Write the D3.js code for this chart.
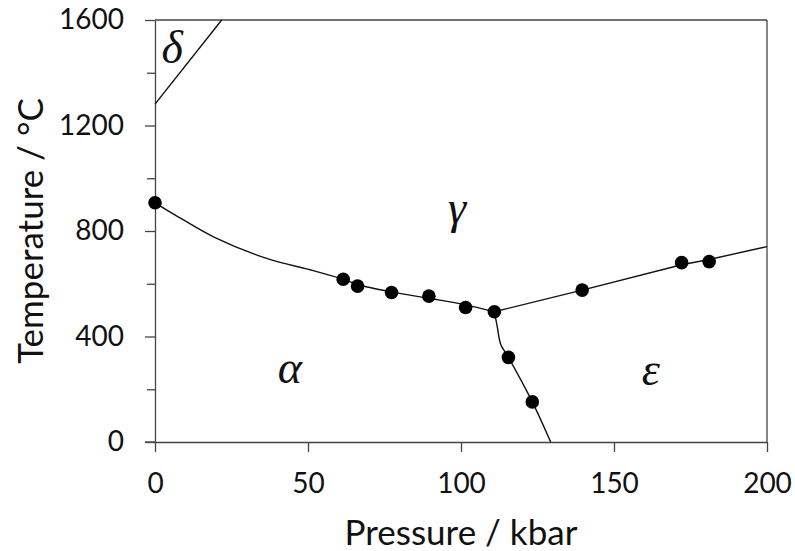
<!DOCTYPE html>
<html><head><meta charset="utf-8">
<script src="https://cdn.jsdelivr.net/npm/d3@7"></script>
<style>body{margin:0;background:#fff}svg{display:block}</style>
</head><body>
<script>
const pressureTicks = [0, 50, 100, 150, 200];
const tempTicks = [0, 400, 800, 1200, 1600];
const tempMinorTicks = [200, 600, 1000, 1400];
// measured points
const pointP = [0, 61.5, 66.2, 77.3, 89.5, 101.5, 110.9, 115.5, 123.3, 139.6, 172.1, 181.1];
const pointT = [907, 617, 591, 567, 553, 510, 494, 321, 152, 576, 680, 684];
// phase boundaries
const alphaGammaP = [0, 9.3, 19.1, 36.5, 51.7, 61.5, 66.2, 77.3, 89.5, 101.5, 110.9];
const alphaGammaT = [907, 842, 778, 696, 650, 617, 597, 569, 545, 520, 494];
const gammaEpsP = [110.9, 139.6, 172.1, 181.1, 200];
const gammaEpsT = [494, 576, 672, 692, 741];
const alphaEpsP = [110.9, 111.8, 113.0, 115.5, 123.3, 129.3];
const alphaEpsT = [494, 440, 370, 321, 152, 0];
const deltaP = [0, 21.8];
const deltaT = [1281, 1600];
const phaseLabels = ["δ", "γ", "α", "ε"];
const phaseP = [5.6, 98.7, 44.1, 162];
const phaseT = [1437, 830, 224, 216];

const W = 795, H = 551;
const m = {l: 155, r: 28, t: 20, b: 109};
const svg = d3.select("body").append("svg").attr("width", W).attr("height", H);
const x = d3.scaleLinear().domain([0, 200]).range([m.l, W - m.r]);
const y = d3.scaleLinear().domain([0, 1600]).range([H - m.b, m.t]);
const axisColor = "#444";
const tickFont = "Lato, 'Open Sans', sans-serif";

// frame (top and right)
svg.append("line").attr("x1", x(0)).attr("x2", x(200)).attr("y1", y(1600)).attr("y2", y(1600)).attr("stroke", axisColor).attr("stroke-width", 1.3);
svg.append("line").attr("x1", x(200)).attr("x2", x(200)).attr("y1", y(1600)).attr("y2", y(0)).attr("stroke", axisColor).attr("stroke-width", 1.3);

// x axis
svg.append("g").attr("transform", `translate(0,${y(0)})`)
  .call(d3.axisBottom(x).tickValues(pressureTicks).tickSize(10).tickSizeOuter(0).tickPadding(21).tickFormat(d3.format("d")));
// y axis
svg.append("g").attr("transform", `translate(${x(0)},0)`)
  .call(d3.axisLeft(y).tickValues(tempTicks).tickSize(10).tickSizeOuter(0).tickPadding(21).tickFormat(d3.format("d")));
svg.append("g").attr("transform", `translate(${x(0)},0)`)
  .call(d3.axisLeft(y).tickValues(tempMinorTicks).tickSize(8).tickSizeOuter(0).tickFormat(""))
  .call(g => g.select(".domain").remove());
svg.selectAll(".domain").attr("stroke", axisColor).attr("stroke-width", 1.3);
svg.selectAll(".tick line").attr("stroke", axisColor).attr("stroke-width", 1.3);
svg.append("line").attr("x1", x(0) - 10).attr("x2", x(0)).attr("y1", y(0)).attr("y2", y(0)).attr("stroke", axisColor).attr("stroke-width", 1.3);
svg.selectAll(".tick text").attr("font-family", tickFont).attr("font-size", 28).attr("fill", "#111");

// axis titles
svg.append("text").attr("x", x(100)).attr("y", 545).attr("text-anchor", "middle")
  .attr("font-family", tickFont).attr("font-size", 35).attr("fill", "#111").text("Pressure / kbar");
svg.append("text").attr("transform", `translate(43,${(y(0)+y(1600))/2}) rotate(-90)`).attr("text-anchor", "middle")
  .attr("font-family", tickFont).attr("font-size", 35).attr("fill", "#111").text("Temperature / °C");

// lines
const smooth = d3.line().x(d => x(d[0])).y(d => y(d[1])).curve(d3.curveCatmullRom.alpha(0.5));
const straight = d3.line().x(d => x(d[0])).y(d => y(d[1]));
const curves = [[alphaGammaP, alphaGammaT, smooth], [gammaEpsP, gammaEpsT, straight], [alphaEpsP, alphaEpsT, smooth], [deltaP, deltaT, straight]];
curves.forEach(([ps, ts, gen]) => {
  svg.append("path").datum(ps.map((p, i) => [p, ts[i]])).attr("d", gen)
    .attr("fill", "none").attr("stroke", "#111").attr("stroke-width", 1.4);
});

// points
svg.append("g").selectAll("circle").data(pointP.map((p, i) => [p, pointT[i]])).join("circle")
  .attr("cx", d => x(d[0])).attr("cy", d => y(d[1])).attr("r", 6.8).attr("fill", "#000");

// phase labels
svg.append("g").selectAll("text").data(phaseLabels).join("text")
  .attr("x", (d, i) => x(phaseP[i])).attr("y", (d, i) => y(phaseT[i]))
  .attr("text-anchor", "middle").attr("font-family", "'Liberation Serif', 'DejaVu Serif', serif")
  .attr("font-style", "italic").attr("font-size", 46).attr("fill", "#111").text(d => d);
</script>
</body></html>
